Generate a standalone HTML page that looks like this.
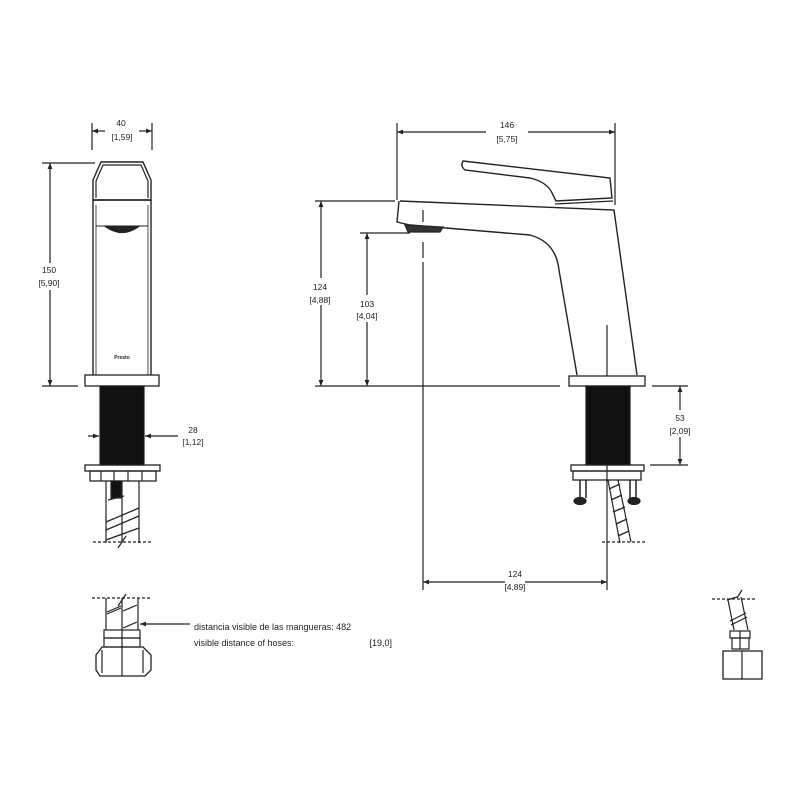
<!DOCTYPE html>
<html><head><meta charset="utf-8"><style>
html,body{margin:0;padding:0;background:#fff}
svg{display:block}
text{font-family:"Liberation Sans",sans-serif;font-size:8.5px;fill:#222;text-anchor:middle}
</style></head><body>
<svg width="800" height="800" viewBox="0 0 800 800">
<defs>
<marker id="a" viewBox="0 0 10 10" refX="10" refY="5" markerWidth="7" markerHeight="5" orient="auto-start-reverse"><path d="M0,1 L10,5 L0,9 z" fill="#222"/></marker>
</defs>
<g stroke="#222" stroke-width="1.2" fill="none">
<!-- FRONT VIEW -->
<line x1="92" y1="123" x2="92" y2="150"/><line x1="152" y1="123" x2="152" y2="150"/>
<line x1="92" y1="131" x2="105" y2="131" marker-start="url(#a)"/><line x1="139" y1="131" x2="152" y2="131" marker-end="url(#a)"/>
<line x1="42" y1="163" x2="95" y2="163"/><line x1="42" y1="386" x2="78" y2="386"/>
<line x1="50" y1="163" x2="50" y2="263" marker-start="url(#a)"/><line x1="50" y1="290" x2="50" y2="386" marker-end="url(#a)"/>
<path d="M93,200 L93,180 L101,162 L143,162 L151,180 L151,200 Z" stroke-width="1.4"/>
<path d="M96,198 L96,181 L103,165 L141,165 L148,181 L148,198"/>
<path d="M93,200 L93,375 M151,200 L151,375" stroke-width="1.4"/>
<path d="M96,205 L96,375 M148,205 L148,375" stroke-width="0.8"/>
<line x1="93" y1="200" x2="151" y2="200" stroke-width="1.4"/>
<path d="M96,226 L148,226" stroke-width="0.9"/>
<path d="M106,227 Q122,238 138,227 Z" fill="#222"/>
<rect x="85" y="375" width="74" height="11" stroke-width="1.3"/>
<rect x="100" y="386" width="44" height="79" fill="#111"/>
<line x1="88" y1="436" x2="99" y2="436" marker-end="url(#a)"/>
<line x1="178" y1="436" x2="145" y2="436" marker-end="url(#a)"/>
<rect x="85" y="465" width="75" height="6" stroke-width="1.3"/>
<rect x="90" y="471" width="66" height="10" stroke-width="1.3"/>
<line x1="101" y1="471" x2="101" y2="481"/><line x1="114" y1="471" x2="114" y2="481"/><line x1="128" y1="471" x2="128" y2="481"/><line x1="142" y1="471" x2="142" y2="481"/>
<path d="M106,481 L106,543 M139,481 L139,543 M122,481 L122,543"/>
<rect x="111" y="481" width="10" height="17" fill="#111"/>
<path d="M108,500 L124,496 M106,522 L139,508 M106,530 L139,516 M106,540 L139,528" stroke-width="1.3"/>
<line x1="93" y1="542" x2="152" y2="542" stroke-dasharray="3,2"/>
<line x1="118" y1="548" x2="126" y2="536"/>
<!-- SIDE VIEW -->
<line x1="397" y1="123" x2="397" y2="200"/><line x1="615" y1="123" x2="615" y2="205"/>
<line x1="397" y1="132" x2="486" y2="132" marker-start="url(#a)"/><line x1="528" y1="132" x2="615" y2="132" marker-end="url(#a)"/>
<path d="M463,161 L610,178 L612,198 L556,201 L553,195 Q548,182 530,178 L465,170 Q460,166 463,161 Z" stroke-width="1.4"/>
<line x1="555" y1="204" x2="613" y2="201"/>
<path d="M400,201 L614,210 L637,375 M399,201 L397,222 L410,225 L530,235 Q556,242 559,270 L577,375" stroke-width="1.4"/>
<path d="M405,225 L443,227 L440,232 L408,232 Z" fill="#333"/>
<line x1="423" y1="210" x2="423" y2="222"/>
<line x1="423" y1="242" x2="423" y2="258"/><line x1="423" y1="262" x2="423" y2="590"/>
<line x1="607" y1="325" x2="607" y2="376"/><line x1="607" y1="386" x2="607" y2="590"/>
<rect x="569" y="376" width="76" height="10" stroke-width="1.3"/>
<rect x="586" y="386" width="44" height="79" fill="#111"/>
<rect x="571" y="465" width="73" height="6" stroke-width="1.3"/>
<rect x="573" y="471" width="68" height="9" stroke-width="1.3"/>
<path d="M580,480 L580,498 M586,480 L586,498 M630,480 L630,498 M636,480 L636,498" stroke-width="1.5"/>
<ellipse cx="580" cy="501" rx="6" ry="3.5" fill="#222"/><ellipse cx="634" cy="501" rx="6" ry="3.5" fill="#222"/>
<path d="M608,480 L620,543 M618,480 L631,542"/>
<path d="M609,489 L620,484 M611,500 L622,495 M613,512 L625,507 M616,524 L627,519 M618,536 L629,531" stroke-width="1.4"/>
<line x1="602" y1="542" x2="645" y2="542" stroke-dasharray="3,2"/>
<line x1="315" y1="201" x2="395" y2="201"/>
<line x1="315" y1="386" x2="560" y2="386" stroke-width="1.3"/>
<line x1="321" y1="201" x2="321" y2="278" marker-start="url(#a)"/><line x1="321" y1="305" x2="321" y2="386" marker-end="url(#a)"/>
<line x1="360" y1="233" x2="410" y2="233"/>
<line x1="367" y1="233" x2="367" y2="295" marker-start="url(#a)"/><line x1="367" y1="322" x2="367" y2="386" marker-end="url(#a)"/>
<line x1="652" y1="386" x2="688" y2="386"/><line x1="650" y1="465" x2="688" y2="465"/>
<line x1="680" y1="386" x2="680" y2="410" marker-start="url(#a)"/><line x1="680" y1="437" x2="680" y2="465" marker-end="url(#a)"/>
<line x1="423" y1="582" x2="505" y2="582" marker-start="url(#a)"/><line x1="525" y1="582" x2="607" y2="582" marker-end="url(#a)"/>
<!-- bottom-left hose -->
<line x1="92" y1="598" x2="152" y2="598" stroke-dasharray="3,2"/>
<path d="M106,598 L106,630 M138,598 L138,630 M122,598 L122,630"/>
<path d="M107,612 L121,606 M123,611 L137,605 M123,628 L137,622 M107,614 L121,608"/>
<line x1="118" y1="606" x2="126" y2="594"/>
<rect x="104" y="630" width="36" height="8"/><rect x="104" y="638" width="36" height="9"/>
<line x1="122" y1="630" x2="122" y2="647"/>
<path d="M96,655 L102,647 L143,647 L151,655 L151,670 L145,676 L100,676 L96,670 Z" stroke-width="1.3"/>
<line x1="122" y1="647" x2="122" y2="676"/><line x1="102" y1="650" x2="102" y2="673"/><line x1="143" y1="650" x2="143" y2="673"/>
<line x1="190" y1="624" x2="140" y2="624" marker-end="url(#a)"/>
<!-- bottom-right hose -->
<line x1="712" y1="599" x2="757" y2="599" stroke-dasharray="3,2"/>
<path d="M728,600 L734,630 M741,597 L748,630 M727,600 L737,597"/>
<path d="M730,621 L746,613 M731,625 L747,617"/>
<line x1="737" y1="598" x2="742" y2="590"/>
<rect x="730" y="631" width="20" height="7"/><rect x="732" y="638" width="17" height="11"/>
<line x1="740" y1="631" x2="740" y2="649"/>
<rect x="723" y="651" width="39" height="28" stroke-width="1.3"/>
<line x1="742" y1="651" x2="742" y2="679"/>
</g>
<text x="121" y="126">40</text><text x="122" y="140">[1,59]</text>
<text x="49" y="273">150</text><text x="49" y="286">[5,90]</text>
<text x="193" y="433">28</text><text x="193" y="445">[1,12]</text>
<text x="122" y="359" style="font-size:5px;font-weight:bold">Presto</text>
<text x="507" y="128">146</text><text x="507" y="142">[5,75]</text>
<text x="320" y="290">124</text><text x="320" y="303">[4,88]</text>
<text x="367" y="307">103</text><text x="367" y="319">[4,04]</text>
<text x="680" y="421">53</text><text x="680" y="434">[2,09]</text>
<text x="515" y="577">124</text><text x="515" y="590">[4,89]</text>
<text x="194" y="630" style="text-anchor:start;font-size:9px">distancia visible de las mangueras:  482</text>
<text x="194" y="646" style="text-anchor:start;font-size:9px">visible distance of hoses:</text>
<text x="392" y="646" style="text-anchor:end;font-size:9px">[19,0]</text>
</svg>
</body></html>
